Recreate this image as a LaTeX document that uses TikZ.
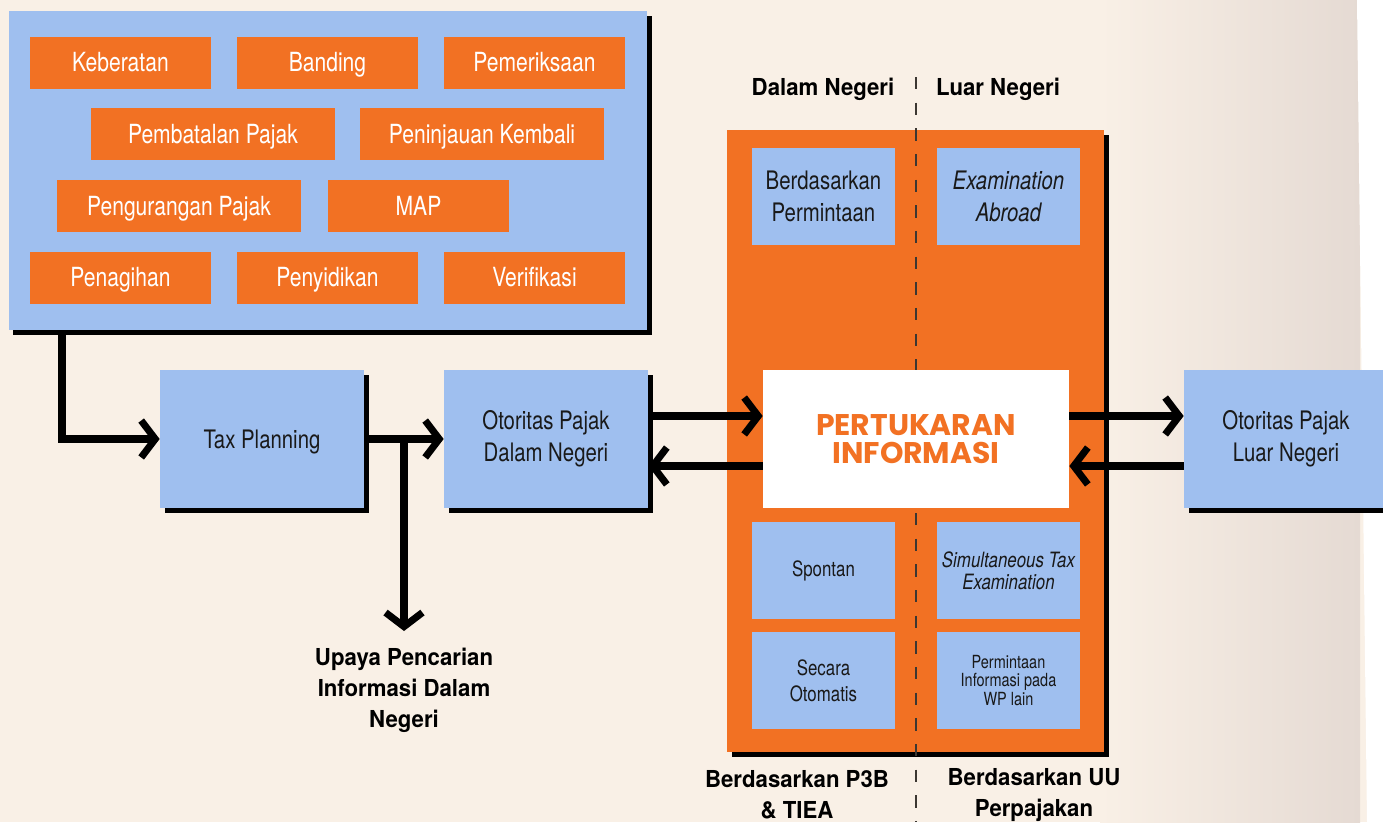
\documentclass[tikz,border=0pt]{standalone}
\usepackage{fontspec}
\setmainfont{TeX Gyre Heros}[FakeStretch=0.8]
\newfontfamily\boldcond{TeX Gyre Heros}[FakeStretch=0.95]
\newfontfamily\pertfont{Poppins}
\usetikzlibrary{arrows.meta,positioning,calc,shadows}
\definecolor{taxorange}{RGB}{242,113,35}
\definecolor{taxblue}{RGB}{159,191,239}
\definecolor{bgbeige}{RGB}{249,240,230}
\definecolor{bgtaupe}{RGB}{229,218,211}
\definecolor{inkdark}{RGB}{25,25,25}
\definecolor{dashgray}{RGB}{60,55,50}

\begin{document}
\begin{tikzpicture}[x=0.02cm,y=-0.02cm,
  every node/.style={inner sep=0pt,align=center},
  boxsize/.style 2 args={minimum width=#1*0.02cm,minimum height=#2*0.02cm},
  darkshadow/.style={drop shadow={shadow xshift=0.1cm,shadow yshift=-0.1cm,fill=black,opacity=1}},
  topic/.style={fill=taxorange,text=white,font=\fontsize{15}{18}\selectfont,text height=10.8pt,text depth=0pt,boxsize={181}{52}},
  authority/.style={fill=taxblue,text=inkdark,darkshadow,font=\fontsize{14.5}{18}\selectfont,boxsize={204}{138}},
  route/.style={fill=taxblue,text=inkdark,font=\fontsize{14.5}{18}\selectfont,boxsize={143}{97}},
  heading/.style={font=\boldcond\bfseries\fontsize{13.3}{17.6}\selectfont,text=black},
  flow/.style={line width=4pt,-{Straight Barb[length=8pt,width=21pt]}}]
  \clip (0,0) rectangle (1383,822);
  % Background
  \fill[bgbeige] (0,0) rectangle (1383,822);
  \shade[left color=bgbeige,right color=bgtaupe] (1100,0) rectangle (1360,822);
  \fill[white] (1357,0) -- (1383,0) -- (1383,822) -- (1367,822) -- cycle;
  % Top panel of audit activities
  \node[fill=taxblue,darkshadow,boxsize={638}{319}] (panel) at (327.5,170.5) {};
  \node[topic] (keberatan) at (120.5,62.5) {Keberatan};
  \node[topic] (banding) at (327.5,62.5) {Banding};
  \node[topic] (pemeriksaan) at (534.5,62.5) {Pemeriksaan};
  \node[topic,boxsize={244}{52}] (pembatalan) at (213,134) {Pembatalan Pajak};
  \node[topic,boxsize={244}{52}] (peninjauan) at (482,134) {Peninjauan Kembali};
  \node[topic,boxsize={244}{52}] (pengurangan) at (179,206) {Pengurangan Pajak};
  \node[topic] (map) at (418.5,206) {MAP};
  \node[topic] (penagihan) at (120.5,277.5) {Penagihan};
  \node[topic] (penyidikan) at (327.5,277.5) {Penyidikan};
  \node[topic] (verifikasi) at (534.5,277.5) {Verifikasi};
  % Exchange panel
  \node[fill=taxorange,darkshadow,boxsize={377}{622}] (exchange) at (915.5,441) {};
  \draw[dashgray,line width=1.2pt,dash pattern=on 7pt off 7.6pt] (916,77) -- (916,822);
  \node[fill=white,boxsize={306}{138},text=taxorange,font=\pertfont\bfseries\fontsize{17}{16}\selectfont] (pert) at (916,439) {PERTUKARAN\\INFORMASI};
  \node[route] (permintaan) at (823.5,196.5) {Berdasarkan\\Permintaan};
  \node[route,font=\itshape\fontsize{14.5}{18}\selectfont] (abroad) at (1008.5,196.5) {Examination\\Abroad};
  \node[route,font=\fontsize{12}{14}\selectfont] (spontan) at (823.5,570.5) {Spontan};
  \node[route,font=\itshape\fontsize{12}{12.5}\selectfont] (simultan) at (1008.5,570.5) {Simultaneous Tax\\Examination};
  \node[route,font=\fontsize{12}{15}\selectfont] (otomatis) at (823.5,680.5) {Secara\\Otomatis};
  \node[route,font=\fontsize{10.3}{10.5}\selectfont] (wplain) at (1008.5,680.5) {Permintaan\\Informasi pada\\WP lain};
  % Authorities
  \node[authority,text height=10.4pt,text depth=0pt] (tax) at (262,439) {Tax Planning};
  \node[authority] (dalam) at (546,439) {Otoritas Pajak\\Dalam Negeri};
  \node[authority] (luar) at (1286,439) {Otoritas Pajak\\Luar Negeri};
  % Labels
  \node[heading] (dalamhead) at (823,89) {Dalam Negeri};
  \node[heading] (luarhead) at (998,89) {Luar Negeri};
  \node[heading] (p3b) at (797,795) {Berdasarkan P3B\\\& TIEA};
  \node[heading] (uu) at (1034,795) {Berdasarkan UU\\Perpajakan};
  \node[heading,anchor=north] (upaya) at (404,648) {Upaya Pencarian\\Informasi Dalam\\Negeri};
  % Flows
  \draw[flow] (62,0 |- panel.south) |- (tax.west);
  \draw[flow] (tax) -- (dalam);
  \draw[flow,shorten >=0.34cm] (404,0 |- tax.east) -- (upaya.north);
  \draw[flow] (dalam.east |- 0,416) -- (pert.west |- 0,416);
  \draw[flow] (pert.west |- 0,466) -- (dalam.east |- 0,466);
  \draw[flow] (pert.east |- 0,416) -- (luar.west |- 0,416);
  \draw[flow] (luar.west |- 0,466) -- (pert.east |- 0,466);
\end{tikzpicture}
\end{document}
